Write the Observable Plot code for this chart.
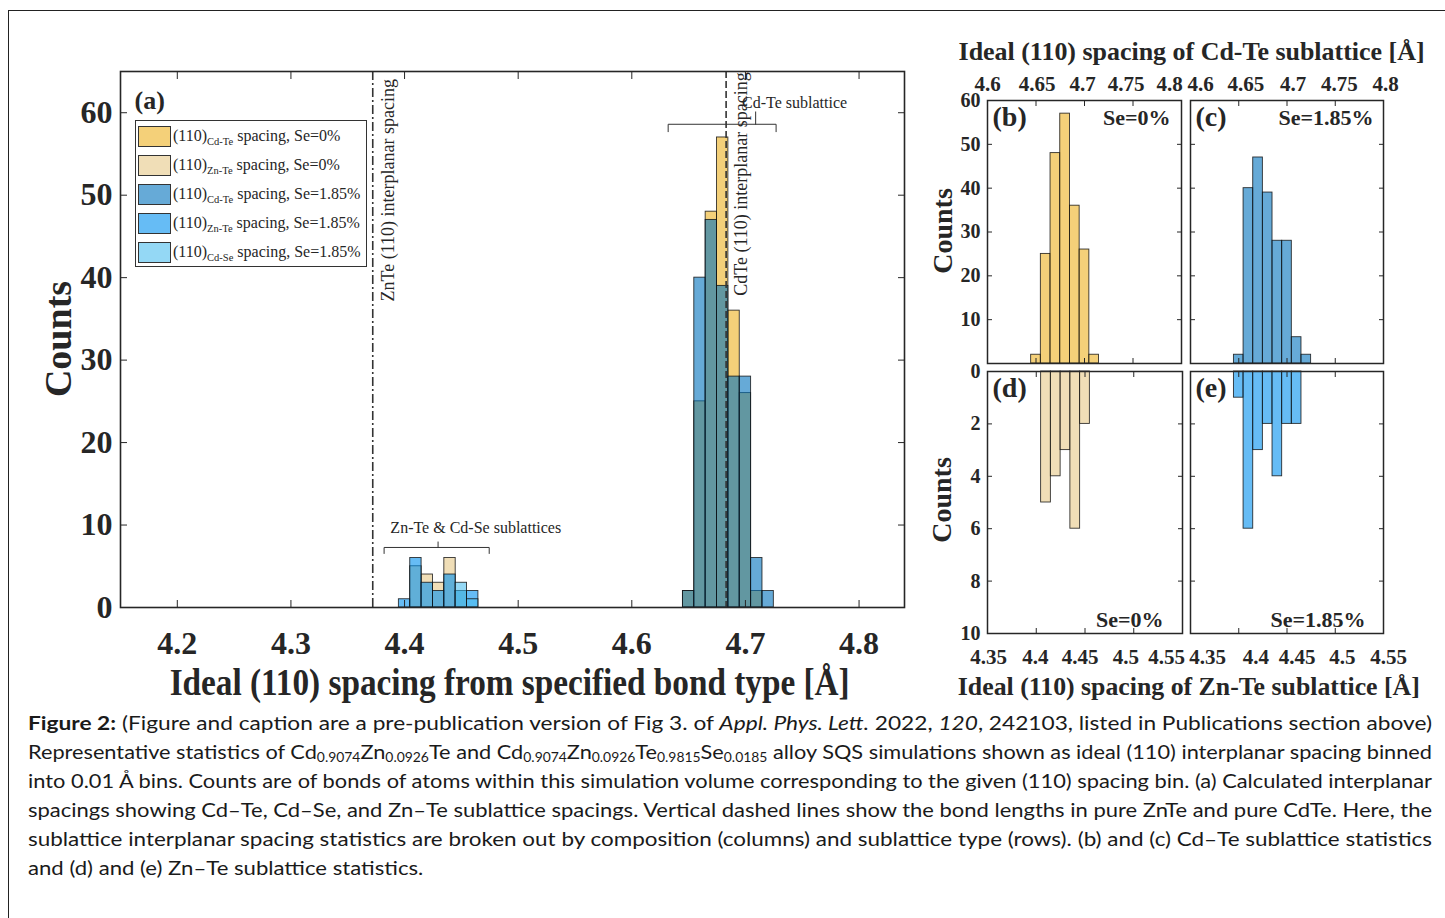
<!DOCTYPE html>
<html><head><meta charset="utf-8">
<script src="https://cdn.jsdelivr.net/npm/d3@7"></script>
<script src="https://cdn.jsdelivr.net/npm/@observablehq/plot@0.6"></script>
<style>
body{margin:0;background:#fff;}
#fig{position:relative;width:1445px;height:918px;overflow:hidden;font-family:"Liberation Serif","Times New Roman",serif;color:#262626;}
#fig svg{position:absolute;left:0;top:0;}
#border{position:absolute;left:8px;top:10px;width:1460px;height:1000px;border:1.5px solid #222;box-sizing:border-box;}
.lbl{position:absolute;white-space:nowrap;font-weight:bold;line-height:1;}
.legend{position:absolute;left:135px;top:120px;width:232px;height:147px;border:1.5px solid #333;background:#fff;box-sizing:border-box;}
.legend .sw{position:absolute;left:2px;width:33px;height:21px;border:1px solid #333;box-sizing:border-box;}
.legend .tx{position:absolute;left:37px;font-size:16px;white-space:nowrap;line-height:1;}
.legend sub{font-size:10.5px;vertical-align:-4px;line-height:0;}
.cap{position:absolute;left:28px;top:708px;width:1404px;font-family:Lato,"Noto Sans",sans-serif;color:#1a1a1a;line-height:29px;}
.cap .ln{white-space:nowrap;display:block;width:max-content;transform-origin:0 50%;}
.cap sub{font-size:0.64em;vertical-align:-0.22em;line-height:0;}
</style></head><body><div id="fig"><div id="border"></div></div>
<script>
// ---------------- data ----------------
const binWidth = 0.01;
const seriesBond   = ["Cd-Te", "Zn-Te", "Cd-Te", "Zn-Te", "Cd-Se"];
const seriesSe     = ["Se=0%", "Se=0%", "Se=1.85%", "Se=1.85%", "Se=1.85%"];
const seriesColors = ["#EDB120", "#E6C887", "#0072BD", "#0090EE", "#4DBEEE"];

const binsCdTe0     = [4.65, 4.66, 4.67, 4.68, 4.69, 4.70, 4.71];
const countsCdTe0   = [2, 25, 48, 57, 36, 26, 2];
const binsZnTe0     = [4.41, 4.42, 4.43, 4.44, 4.45];
const countsZnTe0   = [5, 4, 3, 6, 2];
const binsCdTe185   = [4.65, 4.66, 4.67, 4.68, 4.69, 4.70, 4.71, 4.72];
const countsCdTe185 = [2, 40, 47, 39, 28, 28, 6, 2];
const binsZnTe185   = [4.40, 4.41, 4.42, 4.43, 4.44, 4.45, 4.46];
const countsZnTe185 = [1, 6, 3, 2, 4, 2, 2];
const binsCdSe185   = [4.45, 4.46];
const countsCdSe185 = [3, 1];

const mainXTicks = [4.2, 4.3, 4.4, 4.5, 4.6, 4.7, 4.8];
const mainYTicks = [0, 10, 20, 30, 40, 50, 60];
const cdTeXTicks = [4.6, 4.65, 4.7, 4.75, 4.8];
const cdTeYTicks = [0, 10, 20, 30, 40, 50, 60];
const znTeXTicks = [4.35, 4.4, 4.45, 4.5, 4.55];
const znTeYTicks = [0, 2, 4, 6, 8, 10];
// small horizontal nudges of the tick labels of panels b-e (as in the original)
const bLabelNudge = [0, 1, -2, -7, -12];
const cLabelNudge = [10, 7, 6, 4, 2];
const dLabelNudge = [1, -1, -5, -8, -16];
const eLabelNudge = [17, 17, 10, 7, 5];

// reference lines (pure compounds) and their labels
const refLines  = [4.372, 4.683];
const refLabels = ["ZnTe (110) interplanar spacing", "CdTe (110) interplanar spacing"];
const refLabelY = [37.1, 37.8];
const refDashes = ["9,3,2,3", "7,3"];

// bracket annotations
const cdTeBracket = [[4.632, 57.7], [4.632, 58.6], [4.727, 58.6], [4.727, 57.7]];
const cdTeBracketTip = [[4.709, 58.6], [4.709, 60.1]];
const cdTeNote = {x: 4.697, y: 61.2, text: "Cd-Te sublattice"};
const znTeBracket = [[4.382, 6.55], [4.382, 7.28], [4.4745, 7.28], [4.4745, 6.55]];
const znTeBracketTip = [[4.4295, 7.28], [4.4295, 7.95]];
const znTeNote = {x: 4.3875, y: 9.6, text: "Zn-Te & Cd-Se sublattices"};

const captionLines = [
  '<b>Figure 2:</b> (Figure and caption are a pre-publication version of Fig 3. of <i>Appl. Phys. Lett.</i> 2022, <i>120</i>, 242103, listed in Publications section above)',
  'Representative statistics of Cd<sub>0.9074</sub>Zn<sub>0.0926</sub>Te and Cd<sub>0.9074</sub>Zn<sub>0.0926</sub>Te<sub>0.9815</sub>Se<sub>0.0185</sub> alloy SQS simulations shown as ideal (110) interplanar spacing binned',
  'into 0.01 Å bins. Counts are of bonds of atoms within this simulation volume corresponding to the given (110) spacing bin. (a) Calculated interplanar',
  'spacings showing Cd–Te, Cd–Se, and Zn–Te sublattice spacings. Vertical dashed lines show the bond lengths in pure ZnTe and pure CdTe. Here, the',
  'sublattice interplanar spacing statistics are broken out by composition (columns) and sublattice type (rows). (b) and (c) Cd–Te sublattice statistics',
  'and (d) and (e) Zn–Te sublattice statistics.'
];

// ---------------- drawing ----------------
const fig = document.getElementById("fig");
const W = 1445, H = 720;
const ink = "#262626";
const serif = "'Liberation Serif','Times New Roman',serif";
const svgStyle = {background: "transparent", overflow: "visible", fontFamily: serif, color: ink};

function margins(l, r, t, b) { return {marginLeft: l, marginRight: W - r, marginTop: t, marginBottom: H - b}; }
function bars(bins, counts, color) {
  const data = bins.map((c, i) => ({c, n: counts[i]}));
  return Plot.rectY(data, {x1: d => d.c - binWidth / 2, x2: d => d.c + binWidth / 2, y: "n",
    fill: color, fillOpacity: 0.6, stroke: "#111", strokeOpacity: 0.85, strokeWidth: 0.9});
}
function inward(xt, yt, len) {
  return [
    Plot.axisX({ticks: xt, anchor: "bottom", tickSize: -len, fill: "none", label: null, stroke: ink}),
    Plot.axisX({ticks: xt, anchor: "top", tickSize: -len, fill: "none", label: null, stroke: ink}),
    Plot.axisY({ticks: yt, anchor: "left", tickSize: -len, fill: "none", label: null, stroke: ink}),
    Plot.axisY({ticks: yt, anchor: "right", tickSize: -len, fill: "none", label: null, stroke: ink})
  ];
}
const fmt = d => String(d);
function corner(txt, anchor, dx, dy, size, ta) {
  return Plot.text([txt], {text: d => d, frameAnchor: anchor, dx, dy, fontSize: size, fontWeight: "bold",
    textAnchor: ta, lineAnchor: "middle", fill: ink});
}

// ---- panel (a) ----
const mainPlot = Plot.plot({
  width: W, height: H, ...margins(120, 904, 71, 607), style: svgStyle,
  x: {domain: [4.15, 4.84]}, y: {domain: [0, 65]},
  marks: [
    bars(binsCdTe0, countsCdTe0, seriesColors[0]),
    bars(binsZnTe0, countsZnTe0, seriesColors[1]),
    bars(binsCdTe185, countsCdTe185, seriesColors[2]),
    bars(binsZnTe185, countsZnTe185, seriesColors[3]),
    bars(binsCdSe185, countsCdSe185, seriesColors[4]),
    ...refLines.map((v, i) => Plot.ruleX([v], {x: d => d, stroke: "#333", strokeWidth: 1.6, strokeDasharray: refDashes[i]})),
    Plot.text(refLines, {x: d => d, y: (d, i) => refLabelY[i], text: (d, i) => refLabels[i], rotate: -90,
      textAnchor: "start", lineAnchor: "middle", dx: 15, fontSize: 18, fill: ink}),
    Plot.line(cdTeBracket, {x: d => d[0], y: d => d[1], stroke: "#333", strokeWidth: 1}),
    Plot.line(cdTeBracketTip, {x: d => d[0], y: d => d[1], stroke: "#333", strokeWidth: 1}),
    Plot.line(znTeBracket, {x: d => d[0], y: d => d[1], stroke: "#333", strokeWidth: 1}),
    Plot.line(znTeBracketTip, {x: d => d[0], y: d => d[1], stroke: "#333", strokeWidth: 1}),
    Plot.text([cdTeNote, znTeNote], {x: "x", y: "y", text: "text", textAnchor: "start", lineAnchor: "middle", fontSize: 16, fill: ink}),
    corner("(a)", "top-left", 14, 29, 26, "start"),
    Plot.frame({stroke: ink, strokeWidth: 1.6}),
    ...inward(mainXTicks, mainYTicks, 7),
    Plot.axisX({ticks: mainXTicks, tickSize: 0, tickPadding: 24, tickFormat: fmt, fontSize: 32, fontWeight: "bold", label: null, fill: ink}),
    Plot.axisY({ticks: mainYTicks, tickSize: 0, tickPadding: 8, tickFormat: fmt, fontSize: 32, fontWeight: "bold", label: null, fill: ink})
  ]
});
fig.appendChild(mainPlot);

// ---- panels (b)-(e) ----
function panel(opts) {
  const {frame, xDomain, yDomain, reverse, xt, yt, yLabels, nudge, xAnchor, series, tag, se, seAnchor, seDx, seDy} = opts;
  const marks = [
    ...series.map(s => bars(s[0], s[1], s[2])),
    Plot.frame({stroke: ink, strokeWidth: 1.5}),
    ...inward(xt, yt, 5),
    ...xt.map((t, i) => Plot.axisX({ticks: [t], anchor: xAnchor, tickSize: 0, tickPadding: xAnchor === "top" ? 10 : 16,
      tickFormat: fmt, dx: nudge[i], fontSize: 21, fontWeight: "bold", label: null, fill: ink})),
    corner(tag, "top-left", 5, 17, 28, "start"),
    corner(se, seAnchor, seDx, seDy, 22, "end")
  ];
  if (yLabels) marks.push(Plot.axisY({ticks: yLabels, tickSize: 0, tickPadding: 7, tickFormat: fmt, fontSize: 20, fontWeight: "bold", label: null, fill: ink}));
  return Plot.plot({
    width: W, height: H, ...margins(...frame), style: svgStyle,
    x: {domain: xDomain}, y: {domain: yDomain, reverse: !!reverse},
    marks
  });
}
fig.appendChild(panel({frame: [987, 1181, 100, 363], xDomain: [4.6, 4.8], yDomain: [0, 60], xt: cdTeXTicks, yt: cdTeYTicks,
  yLabels: cdTeYTicks.slice(1), nudge: bLabelNudge,
  xAnchor: "top", series: [[binsCdTe0, countsCdTe0, seriesColors[0]]], tag: "(b)", se: seriesSe[0], seAnchor: "top-right", seDx: -11, seDy: 17}));
fig.appendChild(panel({frame: [1190, 1383, 100, 363], xDomain: [4.6, 4.8], yDomain: [0, 60], xt: cdTeXTicks, yt: cdTeYTicks,
  yLabels: null, nudge: cLabelNudge,
  xAnchor: "top", series: [[binsCdTe185, countsCdTe185, seriesColors[2]]], tag: "(c)", se: seriesSe[2], seAnchor: "top-right", seDx: -10, seDy: 17}));
fig.appendChild(panel({frame: [987, 1182, 371, 633], xDomain: [4.35, 4.55], yDomain: [0, 10], reverse: true, xt: znTeXTicks, yt: znTeYTicks,
  yLabels: znTeYTicks, nudge: dLabelNudge,
  xAnchor: "bottom", series: [[binsZnTe0, countsZnTe0, seriesColors[1]]], tag: "(d)", se: seriesSe[1], seAnchor: "bottom-right", seDx: -19, seDy: -14}));
fig.appendChild(panel({frame: [1190, 1383, 371, 633], xDomain: [4.35, 4.55], yDomain: [0, 10], reverse: true, xt: znTeXTicks, yt: znTeYTicks,
  yLabels: null, nudge: eLabelNudge,
  xAnchor: "bottom", series: [[binsZnTe185, countsZnTe185, seriesColors[3]]], tag: "(e)", se: seriesSe[3], seAnchor: "bottom-right", seDx: -18, seDy: -14}));

// ---- legend ----
const leg = document.createElement("div");
leg.className = "legend";
seriesBond.forEach((b, i) => {
  const sw = document.createElement("div");
  sw.className = "sw";
  sw.style.top = (5 + i * 28.9) + "px";
  sw.style.background = d3.color(seriesColors[i]).copy({opacity: 0.6}).formatRgb();
  leg.appendChild(sw);
  const tx = document.createElement("div");
  tx.className = "tx";
  tx.style.top = (7 + i * 28.9) + "px";
  tx.innerHTML = `(110)<sub>${b}</sub> spacing, ${seriesSe[i]}`;
  leg.appendChild(tx);
});
fig.appendChild(leg);

// ---- text labels ----
function label(text, cx, cy, size, opts = {}) {
  const el = document.createElement("div");
  el.className = "lbl";
  el.textContent = text;
  el.style.fontSize = size + "px";
  fig.appendChild(el);
  const r = el.getBoundingClientRect();
  el.style.left = (cx - r.width / 2) + "px";
  el.style.top = (cy - r.height / 2) + "px";
  let t = "";
  if (opts.rotate) t += `rotate(${opts.rotate}deg)`;
  if (opts.fit) t += ` scaleX(${Math.min(1, opts.fit / r.width)})`;
  el.style.transform = t;
  return el;
}
label("Counts", 58, 339, 38, {rotate: -90});
label("Ideal (110) spacing from specified bond type [Å]", 510, 682, 38, {fit: 680});
label("Ideal (110) spacing of Cd-Te sublattice [Å]", 1192, 52, 26, {fit: 466});
label("Ideal (110) spacing of Zn-Te sublattice [Å]", 1189, 687, 26, {fit: 462});
label("Counts", 943, 231, 28, {rotate: -90});
label("Counts", 942, 500, 28, {rotate: -90});

// ---- caption: each line fitted to the text block width ----
const cap = document.createElement("div");
cap.className = "cap";
cap.style.fontSize = "19.5px";
fig.appendChild(cap);
const lineEls = captionLines.map(h => {
  const d = document.createElement("div");
  d.className = "ln";
  d.innerHTML = h;
  cap.appendChild(d);
  return d;
});
const scales = lineEls.map(el => 1404 / el.getBoundingClientRect().width);
const fullScales = scales.slice(0, -1);
const meanScale = fullScales.reduce((a, b) => a + b, 0) / fullScales.length;
lineEls.forEach((el, i) => {
  el.style.transform = `scaleX(${i < lineEls.length - 1 ? scales[i] : meanScale})`;
});
</script></body></html>
